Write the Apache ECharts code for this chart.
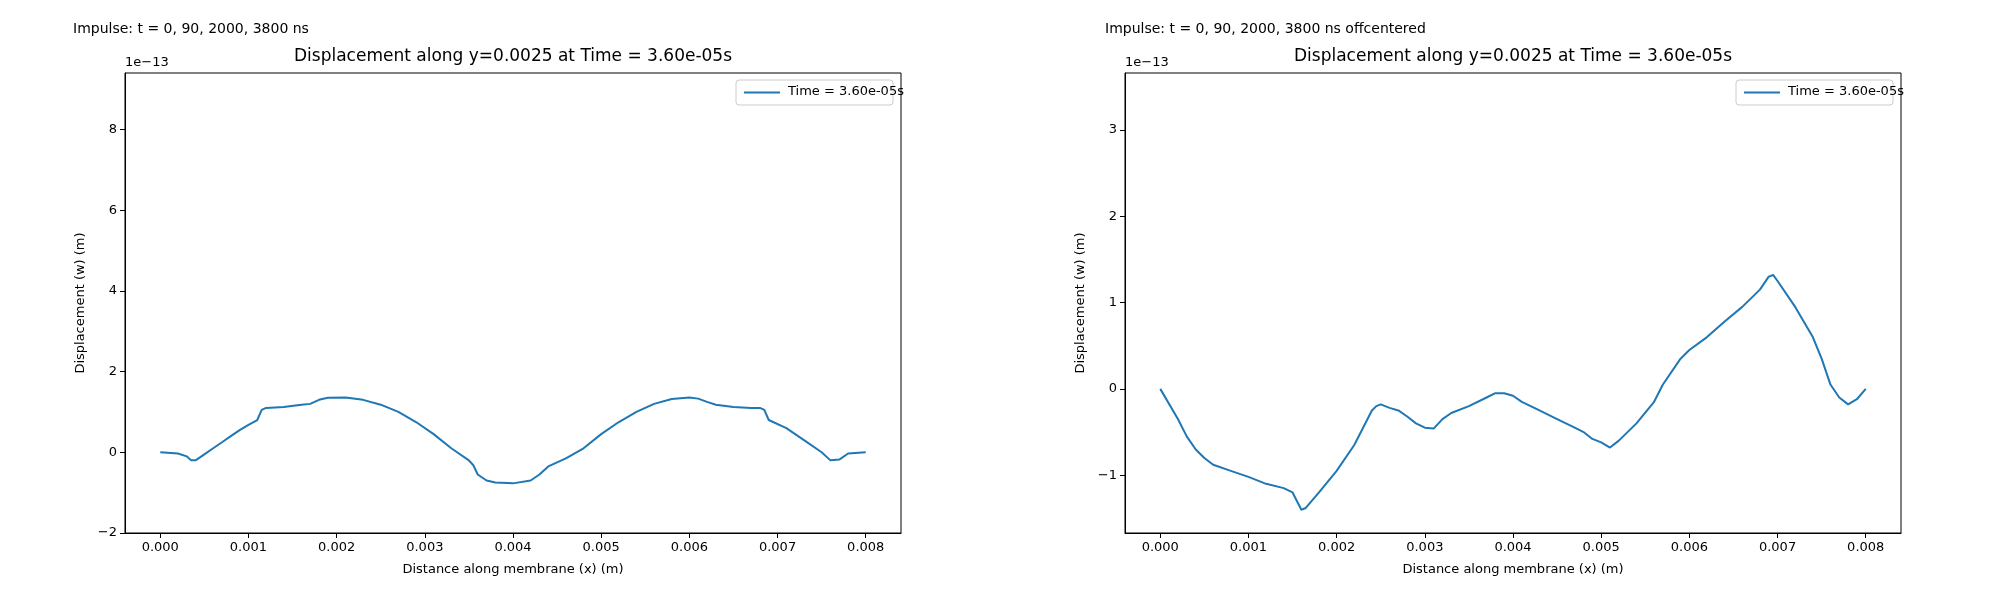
<!DOCTYPE html>
<html>
<head>
<meta charset="utf-8">
<script src="https://cdn.jsdelivr.net/npm/echarts@6/dist/echarts.min.js"></script>
<style>html,body{margin:0;padding:0;background:#fff}#chart{width:2000px;height:600px}</style>
</head>
<body>
<div id="chart"></div>
<script>
// values in units of 1e-13 m
var leftX = [0, 0.0002, 0.0003, 0.00035, 0.0004, 0.0005, 0.0006, 0.0007, 0.0008, 0.0009, 0.001, 0.0011, 0.00115, 0.0012, 0.0014, 0.0016, 0.0017, 0.0018, 0.0019, 0.0021, 0.0023, 0.0025, 0.0027, 0.0029, 0.0031, 0.0033, 0.0035, 0.00355, 0.0036, 0.0037, 0.0038, 0.004, 0.0042, 0.0043, 0.0044, 0.0046, 0.0048, 0.005, 0.0052, 0.0054, 0.0056, 0.0058, 0.006, 0.0061, 0.0062, 0.0063, 0.0065, 0.0067, 0.0068, 0.00685, 0.0069, 0.0071, 0.0073, 0.0075, 0.0076, 0.0077, 0.0078, 0.008];
var leftY = [0, -0.03, -0.1, -0.2, -0.2, -0.05, 0.1, 0.25, 0.4, 0.55, 0.68, 0.8, 1.05, 1.1, 1.12, 1.18, 1.2, 1.3, 1.35, 1.36, 1.3, 1.18, 1.0, 0.75, 0.45, 0.1, -0.2, -0.32, -0.55, -0.7, -0.75, -0.77, -0.7, -0.55, -0.35, -0.15, 0.1, 0.45, 0.75, 1.0, 1.2, 1.32, 1.36, 1.33, 1.25, 1.18, 1.12, 1.1, 1.1, 1.05, 0.8, 0.6, 0.3, 0.0, -0.2, -0.18, -0.03, 0];
var rightX = [0, 0.0002, 0.0003, 0.0004, 0.0005, 0.0006, 0.0008, 0.001, 0.0012, 0.0014, 0.0015, 0.0016, 0.00165, 0.0018, 0.002, 0.0022, 0.0023, 0.0024, 0.00245, 0.0025, 0.0026, 0.0027, 0.0028, 0.0029, 0.003, 0.0031, 0.0032, 0.0033, 0.0035, 0.0037, 0.0038, 0.0039, 0.004, 0.0041, 0.0043, 0.0045, 0.0047, 0.0048, 0.0049, 0.005, 0.0051, 0.0052, 0.0054, 0.0056, 0.0057, 0.0059, 0.006, 0.0062, 0.0064, 0.0066, 0.0068, 0.0069, 0.00695, 0.007, 0.0072, 0.0074, 0.0075, 0.0076, 0.0077, 0.0078, 0.0079, 0.008];
var rightY = [0, -0.35, -0.55, -0.7, -0.8, -0.88, -0.95, -1.02, -1.1, -1.15, -1.2, -1.4, -1.38, -1.2, -0.95, -0.65, -0.45, -0.25, -0.2, -0.18, -0.22, -0.25, -0.32, -0.4, -0.45, -0.46, -0.35, -0.28, -0.2, -0.1, -0.05, -0.05, -0.08, -0.15, -0.25, -0.35, -0.45, -0.5, -0.58, -0.62, -0.68, -0.6, -0.4, -0.15, 0.05, 0.35, 0.45, 0.6, 0.78, 0.95, 1.15, 1.3, 1.32, 1.25, 0.95, 0.6, 0.35, 0.05, -0.1, -0.18, -0.12, 0];
var xTicks = [0, 0.001, 0.002, 0.003, 0.004, 0.005, 0.006, 0.007, 0.008];
var leftYTicks = [-2, 0, 2, 4, 6, 8];
var rightYTicks = [-1, 0, 1, 2, 3];
var titleText = 'Displacement along y=0.0025 at Time = 3.60e-05s';
var seriesName = 'Time = 3.60e-05s';

function pairs(xs, ys) {
    return xs.map(function (x, i) { return [x, ys[i]]; });
}

var font = 'DejaVu Sans';
var axisText = { color: '#000', fontFamily: font, fontSize: 13 };

function xAxis(idx) {
    return {
        gridIndex: idx, type: 'value', min: -0.0004, max: 0.0084,
        name: 'Distance along membrane (x) (m)', nameLocation: 'middle', nameGap: 30,
        nameTextStyle: { color: '#000', fontFamily: font, fontSize: 13 },
        axisLine: { onZero: false, lineStyle: { color: '#000' } },
        axisTick: { show: true, customValues: xTicks, length: 5, lineStyle: { color: '#000' } },
        axisLabel: Object.assign({ customValues: xTicks, margin: 8, formatter: function (v) { return v.toFixed(3); } }, axisText),
        splitLine: { show: false }
    };
}
function yAxis(idx, min, max, ticks) {
    return {
        gridIndex: idx, type: 'value', min: min, max: max,
        name: 'Displacement (w) (m)', nameLocation: 'middle', nameGap: 38,
        nameTextStyle: { color: '#000', fontFamily: font, fontSize: 13 },
        axisLine: { show: true, onZero: false, lineStyle: { color: '#000' } },
        axisTick: { show: true, customValues: ticks, length: 5, lineStyle: { color: '#000' } },
        axisLabel: Object.assign({ customValues: ticks, margin: 8, formatter: function (v) { return v < 0 ? '\u2212' + (-v) : String(v); } }, axisText),
        splitLine: { show: false }
    };
}
function txt(x, y, s, size) {
    return { type: 'text', x: x, y: y, style: { text: s, fill: '#000', font: size + 'px ' + font } };
}
function legendBox(right) {
    return {
        type: 'group', x: right - 165, y: 80, children: [
            { type: 'rect', shape: { x: 0, y: 0, width: 157, height: 25, r: 3 }, style: { fill: '#fff', stroke: '#ccc' } },
            { type: 'line', shape: { x1: 8, y1: 12.5, x2: 44, y2: 12.5 }, style: { stroke: '#1f77b4', lineWidth: 2 } },
            { type: 'text', x: 52, y: 5, style: { text: seriesName, fill: '#000', font: '13px ' + font } }
        ]
    };
}

var chart = echarts.init(document.getElementById('chart'));
chart.setOption({
    backgroundColor: '#fff',
    animation: false,
    grid: [
        { left: 125, top: 73, width: 776, height: 460, show: true, borderColor: '#000', borderWidth: 1, backgroundColor: 'transparent' },
        { left: 1125, top: 73, width: 776, height: 460, show: true, borderColor: '#000', borderWidth: 1, backgroundColor: 'transparent' }
    ],
    xAxis: [xAxis(0), xAxis(1)],
    yAxis: [yAxis(0, -2, 9.4, leftYTicks), yAxis(1, -1.67, 3.66, rightYTicks)],
    graphic: [
        txt(73, 22, 'Impulse: t = 0, 90, 2000, 3800 ns', 14),
        txt(1105, 22, 'Impulse: t = 0, 90, 2000, 3800 ns offcentered', 14),
        { type: 'text', x: 513, y: 48, style: { text: titleText, fill: '#000', font: '17px ' + font, textAlign: 'center' } },
        { type: 'text', x: 1513, y: 48, style: { text: titleText, fill: '#000', font: '17px ' + font, textAlign: 'center' } },
        txt(125, 56, '1e\u221213', 13),
        txt(1125, 56, '1e\u221213', 13),
        legendBox(901),
        legendBox(1901)
    ],
    series: [
        { type: 'line', xAxisIndex: 0, yAxisIndex: 0, name: seriesName, data: pairs(leftX, leftY), showSymbol: false, lineStyle: { color: '#1f77b4', width: 2 } },
        { type: 'line', xAxisIndex: 1, yAxisIndex: 1, name: seriesName, data: pairs(rightX, rightY), showSymbol: false, lineStyle: { color: '#1f77b4', width: 2 } }
    ]
});
</script>
</body>
</html>
